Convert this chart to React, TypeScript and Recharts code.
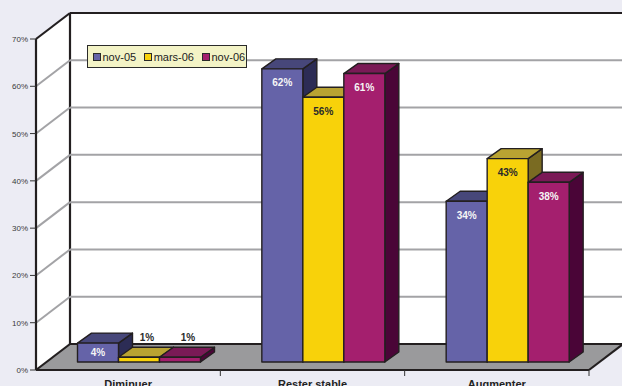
import { Bar, BarChart, CartesianGrid, LabelList, Legend, XAxis, YAxis } from "recharts";

const categories = ["Diminuer", "Rester stable", "Augmenter"];
const nov05 = [4, 62, 34];
const mars06 = [1, 56, 43];
const nov06 = [1, 61, 38];
const yTicks = [0, 10, 20, 30, 40, 50, 60, 70];

const series = [
  { key: "nov05", name: "nov-05", front: "#6563a8", top: "#47477a", side: "#2c2c55", text: "#f6f6f6" },
  { key: "mars06", name: "mars-06", front: "#f8d20a", top: "#b9a332", side: "#7a6b22", text: "#2a2a2a" },
  { key: "nov06", name: "nov-06", front: "#a41f6e", top: "#7a1a56", side: "#4a0537", text: "#f6f6f6" },
];

const data = categories.map((name, i) => ({
  name,
  nov05: nov05[i],
  mars06: mars06[i],
  nov06: nov06[i],
}));

// layout of the fake 3d frame
const W = 622;
const H = 386;
const LEFT = 36;
const RIGHT = 589;
const TOP = 39;
const BOTTOM = 370;
const DX = 34; // wall depth
const DY = 26;
const SHIFT_X = 10.5; // bars stand a little behind the front edge
const SHIFT_Y = 8;
const BAR_DX = 14; // bar depth
const BAR_DY = 10;
const EDGE = "#231f20";
const FONT = "Arial, 'Liberation Sans', sans-serif";

function GridLine(props: any) {
  const y = props.y1;
  if (Math.abs(y - TOP) < 1 || Math.abs(y - BOTTOM) < 1) return <g key={`g-${y}`} />;
  return (
    <g key={`g-${y}`} stroke="#a3a3a6" strokeWidth={2}>
      <line x1={LEFT} y1={y} x2={LEFT + DX} y2={y - DY} />
      <line x1={LEFT + DX} y1={y - DY} x2={W} y2={y - DY} />
    </g>
  );
}

function ValueTick(props: any) {
  const { x, y, payload } = props;
  return (
    <text x={x} y={y + 3} textAnchor="end" fontSize={8} fill="#3a3a3a" fontFamily={FONT}>
      {payload.value}%
    </text>
  );
}

function CategoryTick(props: any) {
  const { x, payload } = props;
  const half = (RIGHT - LEFT) / categories.length / 2;
  return (
    <g>
      <line x1={x + half} y1={BOTTOM} x2={x + half} y2={BOTTOM + 6} stroke="#333" />
      <text x={x} y={BOTTOM + 18} textAnchor="middle" fontSize={11} fontWeight="bold" fill="#222" fontFamily={FONT}>
        {payload.value}
      </text>
    </g>
  );
}

const make3DBar = (s: (typeof series)[number]) => (props: any) => {
  const { x, y, width, height } = props;
  if (height == null || isNaN(height)) return <g />;
  const fx = x + SHIFT_X;
  const fy = y - SHIFT_Y;
  const w = width;
  const h = height;
  const topFace = `${fx},${fy} ${fx + BAR_DX},${fy - BAR_DY} ${fx + w + BAR_DX},${fy - BAR_DY} ${fx + w},${fy}`;
  const sideFace = `${fx + w},${fy} ${fx + w + BAR_DX},${fy - BAR_DY} ${fx + w + BAR_DX},${fy + h - BAR_DY} ${fx + w},${fy + h}`;
  return (
    <g stroke={EDGE} strokeWidth={1.4} strokeLinejoin="round">
      <polygon points={sideFace} fill={s.side} />
      <polygon points={topFace} fill={s.top} />
      <rect x={fx} y={fy} width={w} height={h} fill={s.front} />
    </g>
  );
};

const makeLabel = (s: (typeof series)[number]) => (props: any) => {
  const { x, y, width, height, value } = props;
  const cx = x + SHIFT_X + width / 2;
  const top = y - SHIFT_Y;
  let tx = cx;
  let ty = top + 17.5;
  let fill = s.text;
  if (height < 12) {
    tx = cx + 8;
    ty = top - 16;
    fill = "#2a2a2a";
  } else if (height < 30) {
    ty = top + height / 2 + 3.5;
  }
  return (
    <text x={tx} y={ty} textAnchor="middle" fontSize={10} fontWeight="bold" fill={fill} fontFamily={FONT}>
      {value}%
    </text>
  );
};

function LegendBox() {
  return (
    <div
      style={{
        width: 160,
        height: 23,
        boxSizing: "border-box",
        border: "1px solid #2a2a2a",
        background: "#f3f3c6",
        display: "flex",
        alignItems: "center",
        paddingLeft: 5,
        fontFamily: FONT,
        fontSize: 11,
        color: "#222",
        whiteSpace: "nowrap",
        overflow: "hidden",
      }}
    >
      {series.map((s) => (
        <div key={s.key} style={{ display: "flex", alignItems: "center", marginRight: 8, flexShrink: 0 }}>
          <span
            style={{
              width: 8,
              height: 8,
              boxSizing: "border-box",
              border: "1px solid #2a2a2a",
              background: s.front,
              marginRight: 1.5,
              flexShrink: 0,
            }}
          />
          <span>{s.name}</span>
        </div>
      ))}
    </div>
  );
}

export default function App() {
  return (
    <div style={{ position: "absolute", left: 0, top: 0, width: W, height: H, fontFamily: FONT }}>
      <svg width={W} height={H} style={{ position: "absolute", left: 0, top: 0 }}>
        <rect width={W} height={H} fill="#ececf4" />
        <polygon
          points={`${LEFT},${TOP} ${LEFT + DX},${TOP - DY} ${LEFT + DX},${BOTTOM - DY} ${LEFT},${BOTTOM}`}
          fill="#fff"
        />
        <rect x={LEFT + DX} y={TOP - DY} width={W} height={BOTTOM - TOP} fill="#fff" />
        <polygon
          points={`${LEFT},${BOTTOM} ${LEFT + DX},${BOTTOM - DY} ${RIGHT + DX},${BOTTOM - DY} ${RIGHT},${BOTTOM}`}
          fill="#9a9a9c"
        />
        <g stroke={EDGE} strokeWidth={2.2} fill="none">
          <line x1={LEFT} y1={TOP} x2={LEFT + DX} y2={TOP - DY} />
          <line x1={LEFT + DX} y1={TOP - DY} x2={W} y2={TOP - DY} />
          <line x1={LEFT + DX} y1={TOP - DY} x2={LEFT + DX} y2={BOTTOM - DY} />
          <line x1={LEFT + DX} y1={BOTTOM - DY} x2={RIGHT + DX} y2={BOTTOM - DY} />
          <line x1={LEFT} y1={BOTTOM} x2={LEFT + DX} y2={BOTTOM - DY} />
          <line x1={RIGHT} y1={BOTTOM} x2={RIGHT + DX} y2={BOTTOM - DY} />
        </g>
      </svg>
      <div style={{ position: "absolute", left: 0, top: 0 }}>
        <BarChart
          width={W}
          height={H}
          data={data}
          margin={{ top: TOP, right: W - RIGHT, bottom: 0, left: 0 }}
          barGap={0}
          barSize={41}
        >
          <CartesianGrid vertical={false} horizontal={GridLine} />
          <XAxis
            dataKey="name"
            height={H - BOTTOM}
            interval={0}
            axisLine={{ stroke: EDGE, strokeWidth: 2.2 }}
            tickLine={false}
            tick={CategoryTick}
          />
          <YAxis
            width={LEFT}
            domain={[0, 70]}
            ticks={yTicks}
            interval={0}
            axisLine={{ stroke: EDGE, strokeWidth: 2.2 }}
            tickLine={{ stroke: "#333" }}
            tickSize={6}
            tickMargin={2}
            tick={ValueTick}
          />
          <Legend
            layout="horizontal"
            verticalAlign="middle"
            align="center"
            wrapperStyle={{ left: 87, top: 45, width: "auto" }}
            content={() => <LegendBox />}
          />
          {series.map((s) => (
            <Bar
              key={s.key}
              dataKey={s.key}
              name={s.name}
              fill={s.front}
              shape={make3DBar(s)}
              isAnimationActive={false}
            >
              <LabelList dataKey={s.key} content={makeLabel(s)} />
            </Bar>
          ))}
        </BarChart>
      </div>
    </div>
  );
}
